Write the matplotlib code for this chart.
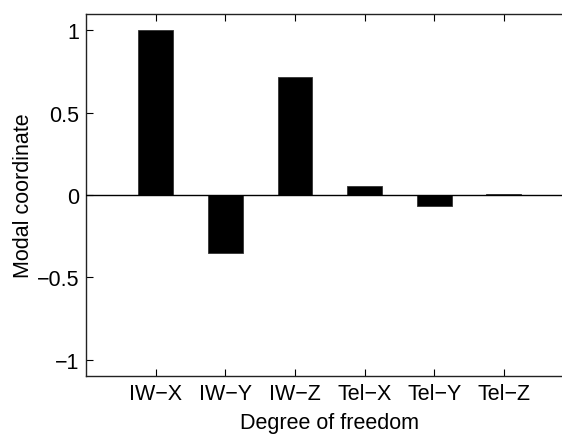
import numpy as np
import matplotlib
matplotlib.use("Agg")
import matplotlib.pyplot as plt

# Modal coordinates per degree of freedom
dof_labels = ["IW\u2212X", "IW\u2212Y", "IW\u2212Z", "Tel\u2212X", "Tel\u2212Y", "Tel\u2212Z"]
modal_coord = [1.0, -0.35, 0.72, 0.055, -0.065, 0.005]

y_ticks = [-1, -0.5, 0, 0.5, 1]
y_tick_labels = ["\u22121", "\u22120.5", "0", "0.5", "1"]

plt.rcParams["font.family"] = ["Liberation Sans", "DejaVu Sans"]

fig = plt.figure(figsize=(5.62, 4.35), dpi=100)
# axes extends past the right edge, as in the reference
ax = fig.add_axes([86 / 562, 1 - 377 / 435, 487.5 / 562, 362 / 435])

x = np.arange(1, len(modal_coord) + 1)
ax.bar(x, modal_coord, width=0.5, color="black", edgecolor="#333333", linewidth=0.6, zorder=2)
ax.axhline(0, color="black", linewidth=1.0, zorder=3)

ax.set_xlim(0, 7)
ax.set_ylim(-1.1, 1.1)
ax.set_xticks(x)
ax.set_xticklabels(dof_labels)
ax.set_yticks(y_ticks)
ax.set_yticklabels(y_tick_labels)

ax.tick_params(direction="in", length=5, width=0.8, top=True, right=True,
               labelsize=15.5, pad=5)
for s in ax.spines.values():
    s.set_linewidth(1.0)
    s.set_color("#222222")

ax.set_xlabel("Degree of freedom", fontsize=15.5, labelpad=6)
ax.set_ylabel("Modal coordinate", fontsize=15.5, labelpad=2)

fig.savefig("out.png", dpi=100)
